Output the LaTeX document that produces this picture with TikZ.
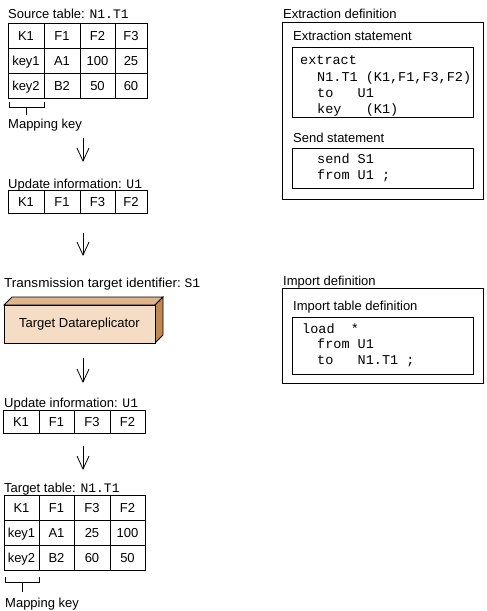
\documentclass[tikz,border=0pt]{standalone}
\usepackage{fontspec}
\setmainfont{Liberation Sans}
\setmonofont{Liberation Mono}
\usetikzlibrary{arrows.meta}
\definecolor{boxfront}{HTML}{F5DCC5}
\definecolor{boxtop}{HTML}{DEB48C}
\definecolor{boxside}{HTML}{C08850}
\tikzset{
  lbl/.style={anchor=base west, inner sep=0pt, font=\fontsize{13}{15}\selectfont},
  code/.style={anchor=base west, inner sep=0pt, font=\fontsize{13.5}{16}\ttfamily},
  cell/.style={draw=black, line width=0.8pt, inner sep=0pt, text height=9.4pt, text depth=0pt, font=\fontsize{13}{15}\selectfont},
  frame/.style={draw=black, line width=0.8pt},
  flow/.style={line width=0.8pt, -{Straight Barb[length=13pt,width=12pt,line width=0.8pt]}},
  brk/.style={line width=0.8pt}
}
\newcommand{\mtt}[1]{{\fontsize{13}{15}\ttfamily #1}}
\begin{document}
\begin{tikzpicture}[x=1pt,y=-1pt]
\useasboundingbox (0,0) rectangle (487,611);
% ---------- Source table ----------
\node[lbl] (srct) at (8,18) {Source table: \mtt{N1.T1}};
\foreach \r/\ya/\yb/\a/\b/\c/\d in {1/23/48/K1/F1/F2/F3, 2/48/73/key1/A1/100/25, 3/73/98/key2/B2/50/60}{
  \node[cell, minimum width=36pt, minimum height=25pt] (s\r a) at (26,{(\ya+\yb)/2}) {\a};
  \node[cell, minimum width=36pt, minimum height=25pt] (s\r b) at (62,{(\ya+\yb)/2}) {\b};
  \node[cell, minimum width=35pt, minimum height=25pt] (s\r c) at (97.5,{(\ya+\yb)/2}) {\c};
  \node[cell, minimum width=32pt, minimum height=25pt] (s\r d) at (131,{(\ya+\yb)/2}) {\d};
}
\coordinate (sbl) at (9,102);
\coordinate (sbr) at (44,102);
\coordinate (sbc) at (26,107);
\coordinate (sbt) at (26,115);
\draw[brk] (sbl) -- (9,107) -- (44,107) -- (sbr);
\draw[brk] (sbc) -- (sbt);
\node[lbl] (smk) at (8,128) {Mapping key};
% arrow 1
\coordinate (a1s) at (83,138);
\coordinate (a1e) at (83,162);
\draw[flow] (a1s) -- (a1e);
% ---------- Update information 1 ----------
\node[lbl] (u1t) at (8,188) {Update information: \mtt{U1}};
\node[cell, minimum width=36pt, minimum height=23pt] (u1a) at (26,201.5) {K1};
\node[cell, minimum width=36pt, minimum height=23pt] (u1b) at (62,201.5) {F1};
\node[cell, minimum width=35pt, minimum height=23pt] (u1c) at (97.5,201.5) {F3};
\node[cell, minimum width=32pt, minimum height=23pt] (u1d) at (131,201.5) {F2};
% arrow 2
\coordinate (a2s) at (83,233);
\coordinate (a2e) at (83,256);
\draw[flow] (a2s) -- (a2e);
% ---------- Transmission target ----------
\node[lbl] (tti) at (4,287) {\scalebox{1.04}[1]{Transmission target identifier:} \mtt{S1}};
\fill[boxtop, draw=black, line width=0.8pt] (4,305) -- (12,297) -- (163,297) -- (155,305) -- cycle;
\fill[boxside, draw=black, line width=0.8pt] (155,305) -- (163,297) -- (163,335) -- (155,343) -- cycle;
\node[draw=black, line width=0.8pt, fill=boxfront, minimum width=151pt, minimum height=38pt, inner sep=0pt, font=\fontsize{13}{15}\selectfont] (tdr) at (79.5,324) {Target Datareplicator};
% arrow 3
\coordinate (a3s) at (83,358);
\coordinate (a3e) at (83,383);
\draw[flow] (a3s) -- (a3e);
% ---------- Update information 2 ----------
\node[lbl] (u2t) at (4,407) {Update information: \mtt{U1}};
\node[cell, minimum width=36pt, minimum height=23pt] (u2a) at (21,421.5) {K1};
\node[cell, minimum width=35pt, minimum height=23pt] (u2b) at (56.5,421.5) {F1};
\node[cell, minimum width=36pt, minimum height=23pt] (u2c) at (92,421.5) {F3};
\node[cell, minimum width=35pt, minimum height=23pt] (u2d) at (127.5,421.5) {F2};
% arrow 4
\coordinate (a4s) at (83,446);
\coordinate (a4e) at (83,470);
\draw[flow] (a4s) -- (a4e);
% ---------- Target table ----------
\node[lbl] (tgt) at (4,492) {Target table: \mtt{N1.T1}};
\foreach \r/\ya/\yb/\a/\b/\c/\d in {1/495/520/K1/F1/F3/F2, 2/520/545/key1/A1/25/100, 3/545/570/key2/B2/60/50}{
  \node[cell, minimum width=35pt, minimum height=25pt] (t\r a) at (21.5,{(\ya+\yb)/2}) {\a};
  \node[cell, minimum width=35pt, minimum height=25pt] (t\r b) at (56.5,{(\ya+\yb)/2}) {\b};
  \node[cell, minimum width=36pt, minimum height=25pt] (t\r c) at (92,{(\ya+\yb)/2}) {\c};
  \node[cell, minimum width=35pt, minimum height=25pt] (t\r d) at (127.5,{(\ya+\yb)/2}) {\d};
}
\coordinate (tbl) at (5,577);
\coordinate (tbr) at (39,577);
\coordinate (tbc) at (22,582);
\coordinate (tbt) at (22,592);
\draw[brk] (tbl) -- (5,582) -- (39,582) -- (tbr);
\draw[brk] (tbc) -- (tbt);
\node[lbl] (tmk) at (5,607) {Mapping key};
% ---------- Extraction definition ----------
\node[lbl] (exd) at (283,18) {Extraction definition};
\node[frame, minimum width=201pt, minimum height=177pt, inner sep=0pt] (exbox) at (382.5,110.5) {};
\node[lbl] (exs) at (293,40) {Extraction statement};
\node[frame, minimum width=181pt, minimum height=70pt, inner sep=0pt] (exin) at (382.5,82) {};
\node[code] (c1) at (300,64) {extract};
\node[code] (c2) at (317,81) {N1.T1 (K1,F1,F3,F2)};
\node[code] (c3) at (317,97) {to\ \ \ U1};
\node[code] (c4) at (317,113) {key\ \ \ (K1)};
\node[lbl] (sds) at (293,142) {Send statement};
\node[frame, minimum width=181pt, minimum height=40pt, inner sep=0pt] (sdin) at (382.5,168) {};
\node[code] (c5) at (317,163) {send S1};
\node[code] (c6) at (317,179) {from U1 ;};
% ---------- Import definition ----------
\node[lbl] (imd) at (283,285) {Import definition};
\node[frame, minimum width=201pt, minimum height=95pt, inner sep=0pt] (imbox) at (382.5,335.5) {};
\node[lbl] (its) at (293,310) {Import table definition};
\node[frame, minimum width=181pt, minimum height=57pt, inner sep=0pt] (imin) at (382.5,345.5) {};
\node[code] (c7) at (302,333) {load\ \ *};
\node[code] (c8) at (317,348) {from U1};
\node[code] (c9) at (317,364) {to\ \ \ N1.T1 ;};
\end{tikzpicture}
\end{document}
